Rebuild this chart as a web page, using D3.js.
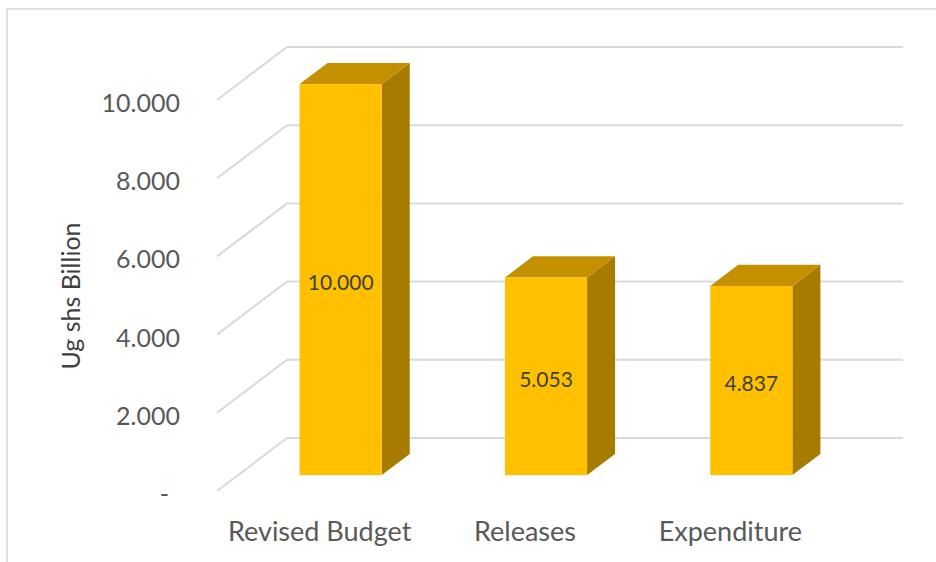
<!DOCTYPE html>
<html><head><meta charset="utf-8">
<script src="https://cdn.jsdelivr.net/npm/d3@7"></script>
<style>body{margin:0;background:#fff}svg{display:block}</style>
</head><body>
<script>
const categories = ["Revised Budget", "Releases", "Expenditure"];
const values = [10000, 5053, 4837];
const tickValues = [0, 2000, 4000, 6000, 8000, 10000];
const tickLabels = ["-", "2.000", "4.000", "6.000", "8.000", "10.000"];
const dataLabels = ["10.000", "5.053", "4.837"];
const axisTitle = "Ug shs Billion";

const W = 936, H = 562;
const svg = d3.select("body").append("svg").attr("width", W).attr("height", H);
const font = "Lato, 'Open Sans', sans-serif";

// chart border
svg.append("path").attr("d", `M7,${H+5} L7,9 L${W+5},9`)
  .attr("fill", "none").attr("stroke", "#d9d9d9").attr("stroke-width", 1.5);

// 3D geometry: depth vector from front to back wall
const depth = {dx: 70, dy: -53};
const y = d3.scaleLinear().domain([0, 10000]).range([491, 100]);
const x = d3.scaleBand().domain(categories).range([217, 833]).padding(0);
const barFrac = 0.4, depthStart = 0.3, depthEnd = 0.7;

const grid = svg.append("g").attr("stroke", "#d9d9d9").attr("stroke-width", 2).attr("fill", "none");
tickValues.forEach(v => {
  const x0 = x.range()[0], x1 = x.range()[1], yy = y(v);
  grid.append("line").attr("x1", x0).attr("y1", yy).attr("x2", x0 + depth.dx).attr("y2", yy + depth.dy);
  grid.append("line").attr("x1", x0 + depth.dx).attr("y1", yy + depth.dy).attr("x2", x1 + depth.dx).attr("y2", yy + depth.dy);
});

// tick labels
svg.append("g").selectAll("text").data(tickValues).join("text")
  .attr("x", (d) => d === 0 ? 169 : 180)
  .attr("y", d => y(d) + 12)
  .attr("text-anchor", "end")
  .attr("font-family", font).attr("font-size", 25).attr("fill", "#595959")
  .text((d, i) => tickLabels[i]);

// axis title
svg.append("text").attr("transform", "translate(80,296) rotate(-90)")
  .attr("text-anchor", "middle").attr("font-family", font).attr("font-size", 25)
  .attr("fill", "#404040").text(axisTitle);

// bars
const bw = x.bandwidth() * barFrac;
const ox = depth.dx * depthStart, oy = depth.dy * depthStart;
const ddx = depth.dx * (depthEnd - depthStart), ddy = depth.dy * (depthEnd - depthStart);
const bars = svg.append("g").selectAll("g").data(categories.map((c, i) => ({c, v: values[i], lbl: dataLabels[i]}))).join("g");
bars.each(function(d) {
  const g = d3.select(this);
  const xl = x(d.c) + (x.bandwidth() - bw) / 2 + ox;
  const xr = xl + bw;
  const yb = y(0) + oy, yt = y(d.v) + oy;
  // side
  g.append("path").attr("d", `M${xr},${yb} L${xr+ddx},${yb+ddy} L${xr+ddx},${yt+ddy} L${xr},${yt} Z`).attr("fill", "#A67B00");
  // top
  g.append("path").attr("d", `M${xl},${yt} L${xl+ddx},${yt+ddy} L${xr+ddx},${yt+ddy} L${xr},${yt} Z`).attr("fill", "#C49000");
  // front
  g.append("rect").attr("x", xl).attr("y", yt).attr("width", bw).attr("height", yb - yt).attr("fill", "#FFC000");
  g.append("text").attr("x", (xl + xr) / 2).attr("y", (yt + yb) / 2 + 2)
    .attr("text-anchor", "middle").attr("dominant-baseline", "central")
    .attr("font-family", font).attr("font-size", 21).attr("fill", "#404040").text(d.lbl);
});

// category labels
svg.append("g").selectAll("text").data(categories).join("text")
  .attr("x", d => x(d) + x.bandwidth() / 2)
  .attr("y", 541)
  .attr("text-anchor", "middle").attr("font-family", font).attr("font-size", 27)
  .attr("fill", "#595959").text(d => d);
</script>
</body></html>
